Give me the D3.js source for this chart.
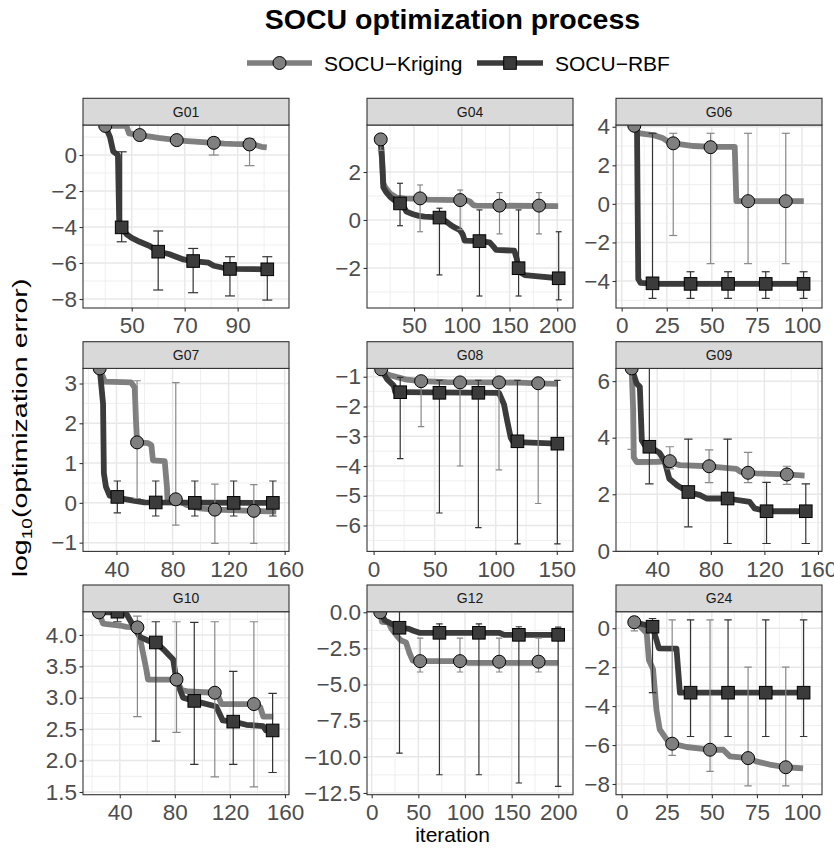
<!DOCTYPE html>
<html><head><meta charset="utf-8">
<script src="https://cdn.jsdelivr.net/npm/d3@7"></script>
<style>body{margin:0;background:#fff} svg{display:block;font-family:Arial,"Liberation Sans",sans-serif}</style>
</head><body><svg id="c" width="834" height="848"></svg>
<script>
// ---------------- DATA ----------------
const series = ["SOCU\u2212Kriging", "SOCU\u2212RBF"];
const panelNames = ["G01","G04","G06","G07","G08","G09","G10","G12","G24"];

// G01
const g01XTicks = [50,70,90], g01YTicks = [-8,-6,-4,-2,0];
const g01KrigLine = [[40,1.62],[48,1.62],[49,1.2],[53,1.11],[57,1.02],[60,0.95],[64,0.88],[67,0.83],[71,0.78],[74,0.75],[78,0.71],[81,0.68],[85,0.64],[88,0.62],[91,0.61],[94.5,0.59],[97,0.55],[99,0.46],[101,0.43]];
const g01KrigPts = [[40,1.62,null,null],[53,1.11,0.9,1.7],[67,0.83,0.6,1.0],[81,0.68,0.0,0.95],[94.5,0.59,-0.59,0.9]];
const g01RbfLine = [[40,1.62],[41.8,1.0],[43,0.2],[44.8,0.0],[45.3,-3.9],[46.2,-4.02],[48,-4.39],[50,-4.6],[53,-4.82],[57,-5.07],[60,-5.37],[64,-5.5],[69.5,-5.8],[73,-5.89],[79,-5.98],[81,-6.15],[84,-6.25],[87,-6.33],[101,-6.35]];
const g01RbfPts = [[46.2,-4.02,-4.82,0.18],[60,-5.37,-7.5,-4.22],[73.2,-5.89,-7.65,-5.19],[87.1,-6.33,-7.83,-5.65],[101.2,-6.35,-8.06,-5.65]];

// G04
const g04XTicks = [50,100,150,200], g04YTicks = [-2,0,2];
const g04KrigLine = [[15,3.36],[16.5,2.5],[17.8,1.53],[20,1.35],[24.8,1.11],[31.9,0.93],[40,0.9],[56,0.88],[65,0.85],[80,0.84],[98,0.83],[105,0.82],[108.8,0.76],[112,0.62],[115,0.6],[201,0.58]];
const g04KrigPts = [[15.1,3.36,2.9,3.6],[56.3,0.9,-0.49,1.46],[98.3,0.83,-0.4,1.25],[139.5,0.6,-0.58,1.14],[180.9,0.6,-0.58,1.14]];
const g04RbfLine = [[15,3.36],[16.5,2.5],[17.8,1.36],[21,1.15],[24.8,0.97],[30,0.8],[35.3,0.69],[39,0.55],[42,0.35],[49,0.24],[55,0.17],[61,0.14],[70,0.12],[76.6,0.1],[84,-0.07],[88,-0.2],[91,-0.28],[98,-0.42],[101,-0.6],[103,-0.86],[118.5,-0.88],[129,-0.93],[133,-1.1],[136,-1.25],[155,-1.28],[157.5,-1.6],[159.5,-2.01],[162,-2.2],[166,-2.3],[180,-2.35],[201.5,-2.43]];
const g04RbfPts = [[35.3,0.69,-0.24,1.53],[76.6,0.1,-2.29,0.49],[118.5,-0.88,-3.17,0.42],[159.5,-2.01,-3.17,0.42],[201.5,-2.43,-3.33,-0.49]];

// G06
const g06XTicks = [0,25,50,75,100], g06YTicks = [-4,-2,0,2,4];
const g06KrigLine = [[7,4.05],[8.5,3.75],[10.1,3.66],[17.5,3.57],[23,3.4],[26.7,3.17],[30,3.12],[40,3.0],[50,2.96],[62.7,2.96],[63.6,0.14],[101,0.14]];
const g06KrigPts = [[7,4.05,null,null],[28.6,3.14,-1.64,3.66],[49.3,2.94,-3.1,3.66],[70.1,0.14,-3.1,3.66],[91,0.14,-3.1,3.66]];
const g06RbfLine = [[7,4.05],[8.5,3.9],[9.2,-3.9],[10.5,-4.1],[20,-4.15],[101,-4.15]];
const g06RbfPts = [[17.1,-4.12,-4.9,3.66],[38.2,-4.15,-4.9,-3.52],[59,-4.15,-4.9,-3.52],[79.9,-4.15,-4.9,-3.52],[100.9,-4.15,-4.9,-3.52]];

// G07
const g07XTicks = [40,80,120,160], g07YTicks = [-1,0,1,2,3];
const g07KrigLine = [[28,3.38],[30,3.2],[31.6,3.05],[50.3,3.03],[53,2.9],[54,2.0],[54.7,1.52],[62.6,1.5],[64.9,1.45],[66,1.07],[74.4,1.05],[76,0.4],[76.4,0.08],[82.3,0.09],[90,-0.05],[99.6,-0.14],[110.2,-0.17],[138,-0.2],[154,-0.22]];
const g07KrigPts = [[28,3.38,null,null],[54.7,1.52,0.11,3.07],[82.3,0.09,-0.56,3.02],[110.2,-0.17,-1.02,0.47],[138,-0.2,-1.02,0.46]];
const g07RbfLine = [[28,3.38],[30.4,2.5],[31,0.74],[32.5,0.4],[35.1,0.18],[40.6,0.15],[45,0.1],[53.1,0.05],[60,0.01],[151.6,0.0]];
const g07RbfPts = [[40.6,0.15,-0.25,0.55],[68,0.01,-0.33,0.55],[95.9,0,-0.33,0.55],[123.6,0,-0.33,0.55],[151.6,0,-0.33,0.55]];

// G08
const g08XTicks = [0,50,100,150], g08YTicks = [-6,-5,-4,-3,-2,-1];
const g08KrigLine = [[6.2,-0.75],[10,-0.9],[13.6,-0.95],[20,-1.02],[27.3,-1.1],[38.9,-1.15],[60,-1.18],[102.7,-1.19],[120,-1.2],[134.8,-1.22],[150.9,-1.24]];
const g08KrigPts = [[6.2,-0.75,null,null],[38.9,-1.15,-2.68,-1.1],[70.8,-1.19,-4.0,-1.12],[102.7,-1.19,-4.13,-1.12],[134.8,-1.22,-5.26,-1.12]];
const g08RbfLine = [[6.2,-0.75],[11,-1.08],[16.5,-1.3],[17.8,-1.52],[21.8,-1.52],[102.7,-1.54],[106.8,-1.93],[109.5,-2.5],[112.3,-3.05],[114,-3.17],[117.8,-3.2],[150.5,-3.25]];
const g08RbfPts = [[21.8,-1.52,-3.75,-1.02],[53.9,-1.54,-5.58,-1.12],[85.8,-1.54,-6.07,-1.12],[117.8,-3.17,-6.62,-1.12],[150.5,-3.25,-6.62,-1.12]];

// G09
const g09XTicks = [40,80,120,160], g09YTicks = [0,2,4,6];
const g09KrigLine = [[20.9,6.45],[22,5],[22.5,3.3],[24.6,3.14],[40,3.15],[49.4,3.17],[52,3.1],[56.9,3.03],[78.7,2.99],[99.1,2.9],[102,2.8],[107.8,2.76],[114,2.74],[136.8,2.7],[150,2.66]];
const g09KrigPts = [[20.9,6.45,3.59,6.8],[49.4,3.17,2.9,3.68],[78.7,2.99,2.41,3.57],[107.8,2.76,2.41,3.48],[136.8,2.7,2.35,2.99]];
const g09RbfLine = [[20.9,6.45],[24.6,5.92],[27,5.8],[28.5,3.9],[30.9,3.72],[34.1,3.68],[41.4,3.48],[45.4,3.19],[49,2.55],[55,2.31],[63.2,2.08],[71.9,1.97],[76.9,1.85],[92.5,1.85],[109,1.73],[112.7,1.5],[121.6,1.4],[150.9,1.4]];
const g09RbfPts = [[34.1,3.68,2.37,6.8],[63.2,2.08,0.85,3.95],[92.5,1.85,0.26,3.95],[121.6,1.4,0.26,2.42],[150.9,1.4,0.26,2.37]];

// G10
const g10XTicks = [40,80,120,160], g10YTicks = [1.5,2,2.5,3,3.5,4];
const g10KrigLine = [[24.9,4.36],[27.8,4.18],[40,4.15],[45,4.13],[52.8,4.12],[54.5,3.97],[57,3.7],[59.3,3.45],[60.5,3.29],[81.2,3.29],[85,3.12],[90,3.1],[109,3.08],[112,3.0],[113.9,2.9],[137.4,2.9],[142,2.85],[144.2,2.7],[151.5,2.7]];
const g10KrigPts = [[24.9,4.36,null,null],[52.8,4.12,2.7,4.3],[81.2,3.29,2.45,4.21],[109,3.08,1.74,4.21],[137.4,2.9,1.58,4.21]];
const g10RbfLine = [[24.9,4.36],[38.3,4.36],[45,4.33],[47.6,4.23],[54.5,3.97],[61.8,3.9],[66.2,3.88],[72.7,3.75],[78.8,3.61],[81.2,3.27],[86,3.0],[94.1,2.95],[110,2.86],[114.8,2.64],[122.4,2.62],[131.9,2.57],[144,2.55],[146.3,2.48],[151,2.48]];
const g10RbfPts = [[38.3,4.37,4.21,4.5],[66.2,3.88,2.31,4.21],[94.1,2.95,1.94,4.2],[122.4,2.62,1.94,3.42],[151,2.48,1.81,3.07]];

// G12
const g12XTicks = [0,50,100,150,200], g12YTicks = [-12.5,-10,-7.5,-5,-2.5,0];
const g12KrigLine = [[9.2,0],[11,-0.66],[18,-0.7],[20.8,-1.1],[27.9,-1.7],[31.5,-1.95],[36.8,-2.08],[40.4,-2.8],[44,-3.35],[51.9,-3.38],[98,-3.38],[103,-3.5],[200,-3.5]];
const g12KrigPts = [[9.2,0,null,null],[51.9,-3.38,-4.13,-1.79],[94.6,-3.38,-4.13,-1.79],[136.6,-3.42,-4.13,-1.79],[178.8,-3.42,-4.13,-1.79]];
const g12RbfLine = [[9.2,0],[14.2,-0.57],[21.3,-0.8],[29.8,-1.07],[40,-1.15],[44.1,-1.26],[51.2,-1.42],[136.6,-1.42],[142,-1.56],[200,-1.56]];
const g12RbfPts = [[29.8,-1.07,-9.75,0.3],[72.6,-1.42,-11.24,-0.8],[114.9,-1.42,-11.24,-0.8],[157.7,-1.56,-11.81,-1.0],[199.8,-1.56,-12.04,-1.03]];

// G24
const g24XTicks = [0,25,50,75,100], g24YTicks = [-8,-6,-4,-2,0];
const g24KrigLine = [[7,0.31],[11.2,0.0],[13.9,-0.26],[15.1,-1.63],[17.4,-2.1],[19.3,-4.2],[21.1,-5.2],[24.8,-5.7],[28,-5.93],[36,-6.1],[49,-6.24],[56.3,-6.24],[60,-6.58],[70.1,-6.67],[74.6,-6.84],[82,-7.0],[91,-7.14],[100.6,-7.2]];
const g24KrigPts = [[7,0.31,-0.14,0.6],[28,-5.93,-6.53,0.43],[49,-6.24,-7.35,0.43],[70.1,-6.67,-8.1,-2.0],[91,-7.14,-8.1,-2.0]];
const g24RbfLine = [[7,0.31],[17.1,0.08],[19,-0.5],[20.6,-1.03],[30.4,-1.05],[32.3,-3.31],[100.9,-3.31]];
const g24RbfPts = [[17.1,0.08,-3.31,0.5],[38.2,-3.31,-5.56,0.43],[59,-3.31,-5.56,0.43],[79.9,-3.31,-5.56,0.43],[100.9,-3.31,-5.56,0.43]];

// scale limits (axis ranges shown in each panel)
const xLimits = [[31.6,109.4],[0.7,216.5],[-3.15,111.1],[16.1,163.1],[-5.4,163.3],[9.2,163],[13.3,162.9],[-5,215.7],[-3.15,111.1]];
const yLimits = [[-8.5,1.67],[-3.67,3.96],[-5.4,4.09],[-1.22,3.38],[-6.87,-0.72],[-0.02,6.45],[1.457,4.37],[-12.62,0.04],[-8.55,0.85]];

// ---------------- BUILD TABLE ----------------
const panels = [
  {name:"G01", xt:g01XTicks, yt:g01YTicks, kl:g01KrigLine, kp:g01KrigPts, rl:g01RbfLine, rp:g01RbfPts},
  {name:"G04", xt:g04XTicks, yt:g04YTicks, kl:g04KrigLine, kp:g04KrigPts, rl:g04RbfLine, rp:g04RbfPts},
  {name:"G06", xt:g06XTicks, yt:g06YTicks, kl:g06KrigLine, kp:g06KrigPts, rl:g06RbfLine, rp:g06RbfPts},
  {name:"G07", xt:g07XTicks, yt:g07YTicks, kl:g07KrigLine, kp:g07KrigPts, rl:g07RbfLine, rp:g07RbfPts},
  {name:"G08", xt:g08XTicks, yt:g08YTicks, kl:g08KrigLine, kp:g08KrigPts, rl:g08RbfLine, rp:g08RbfPts},
  {name:"G09", xt:g09XTicks, yt:g09YTicks, kl:g09KrigLine, kp:g09KrigPts, rl:g09RbfLine, rp:g09RbfPts},
  {name:"G10", xt:g10XTicks, yt:g10YTicks, kl:g10KrigLine, kp:g10KrigPts, rl:g10RbfLine, rp:g10RbfPts},
  {name:"G12", xt:g12XTicks, yt:g12YTicks, kl:g12KrigLine, kp:g12KrigPts, rl:g12RbfLine, rp:g12RbfPts},
  {name:"G24", xt:g24XTicks, yt:g24YTicks, kl:g24KrigLine, kp:g24KrigPts, rl:g24RbfLine, rp:g24RbfPts}
];

// ---------------- STYLE / LAYOUT ----------------
const colX = [83, 367, 616], panelW = 206;
const rowTop = [98.3, 341.7, 585], stripH = 26.7, plotH = 183;
const capHalf = [5, 3, 4, 3.7, 3.2, 4.2, 4.2, 3.2, 3.7];
const krigCol = "#7f7f7f", rbfCol = "#3b3b3b";
const krigErr = "#888888", rbfErr = "#333333";
const tickFont = 22.5;

const svg = d3.select("#c");
svg.append("rect").attr("width",834).attr("height",848).attr("fill","#fff");

// title
svg.append("text").attr("x",452.5).attr("y",29).attr("text-anchor","middle")
  .attr("font-size",28.5).attr("font-weight","bold").attr("fill","#000").text("SOCU optimization process");

// legend
const leg = svg.append("g");
[[247,312,279.5,324],[477,543,510,555]].forEach((p,i)=>{
  leg.append("line").attr("x1",p[0]).attr("x2",p[1]).attr("y1",63).attr("y2",63)
    .attr("stroke", i===0?krigCol:rbfCol).attr("stroke-width",5.5);
  if(i===0) leg.append("circle").attr("cx",p[2]).attr("cy",63).attr("r",6.5).attr("fill",krigCol).attr("stroke","#000").attr("stroke-width",1);
  else leg.append("rect").attr("x",p[2]-6.3).attr("y",63-6.3).attr("width",12.6).attr("height",12.6).attr("fill",rbfCol).attr("stroke","#000").attr("stroke-width",1);
  leg.append("text").attr("x",p[3]).attr("y",70.5).attr("font-size",21).attr("fill","#000").text(series[i]);
});

const defs = svg.append("defs");

panels.forEach((P, i) => {
  const c = i % 3, r = Math.floor(i / 3);
  const x0 = colX[c], y0 = rowTop[r] + stripH;
  const x = d3.scaleLinear().domain(xLimits[i]).range([x0, x0 + panelW]);
  const y = d3.scaleLinear().domain(yLimits[i]).range([y0 + plotH, y0]);
  const g = svg.append("g");

  g.append("rect").attr("x",x0).attr("y",y0).attr("width",panelW).attr("height",plotH).attr("fill","#fff");

  // minor grid
  const xt = P.xt, yt = P.yt;
  const dx = xt[1]-xt[0], dy = yt[1]-yt[0];
  const xMinor = [], yMinor = [];
  for (let v = xt[0]-dx/2; v <= xLimits[i][1]; v += dx) if (v >= xLimits[i][0]) xMinor.push(v);
  for (let v = yt[0]-dy/2; v <= yLimits[i][1]; v += dy) if (v >= yLimits[i][0]) yMinor.push(v);
  g.selectAll(null).data(xMinor).enter().append("line")
    .attr("x1",d=>x(d)).attr("x2",d=>x(d)).attr("y1",y0).attr("y2",y0+plotH)
    .attr("stroke","#ebebeb").attr("stroke-width",0.8);
  g.selectAll(null).data(yMinor).enter().append("line")
    .attr("y1",d=>y(d)).attr("y2",d=>y(d)).attr("x1",x0).attr("x2",x0+panelW)
    .attr("stroke","#ebebeb").attr("stroke-width",0.8);
  // major grid
  g.selectAll(null).data(xt).enter().append("line")
    .attr("x1",d=>x(d)).attr("x2",d=>x(d)).attr("y1",y0).attr("y2",y0+plotH)
    .attr("stroke","#e8e8e8").attr("stroke-width",1.5);
  g.selectAll(null).data(yt).enter().append("line")
    .attr("y1",d=>y(d)).attr("y2",d=>y(d)).attr("x1",x0).attr("x2",x0+panelW)
    .attr("stroke","#e8e8e8").attr("stroke-width",1.5);

  // clip
  const cid = "clip" + i;
  defs.append("clipPath").attr("id",cid).append("rect")
    .attr("x",x0).attr("y",y0).attr("width",panelW).attr("height",plotH);
  const pg = g.append("g").attr("clip-path","url(#"+cid+")");

  const line = d3.line().x(d=>x(d[0])).y(d=>y(d[1]));
  pg.append("path").attr("d",line(P.kl)).attr("fill","none").attr("stroke",krigCol)
    .attr("stroke-width",5.8).attr("stroke-linejoin","round");
  pg.append("path").attr("d",line(P.rl)).attr("fill","none").attr("stroke",rbfCol)
    .attr("stroke-width",5.8).attr("stroke-linejoin","round");

  // error bars
  [[P.kp, krigErr],[P.rp, rbfErr]].forEach(([pts, col]) => {
    pts.filter(d=>d[2]!==null).forEach(d => {
      const xx = x(d[0]);
      pg.append("line").attr("x1",xx).attr("x2",xx).attr("y1",y(d[2])).attr("y2",y(d[3]))
        .attr("stroke",col).attr("stroke-width",1.2);
      [d[2], d[3]].forEach(v => {
        pg.append("line").attr("x1",xx-capHalf[i]).attr("x2",xx+capHalf[i]).attr("y1",y(v)).attr("y2",y(v))
          .attr("stroke",col).attr("stroke-width",1.2);
      });
    });
  });

  // points
  pg.selectAll(null).data(P.kp).enter().append("circle")
    .attr("cx",d=>x(d[0])).attr("cy",d=>y(d[1])).attr("r",6.5)
    .attr("fill",krigCol).attr("stroke","#000").attr("stroke-width",1);
  pg.selectAll(null).data(P.rp).enter().append("rect")
    .attr("x",d=>x(d[0])-6.3).attr("y",d=>y(d[1])-6.3).attr("width",12.6).attr("height",12.6)
    .attr("fill",rbfCol).attr("stroke","#000").attr("stroke-width",1);

  // border
  g.append("rect").attr("x",x0).attr("y",y0).attr("width",panelW).attr("height",plotH)
    .attr("fill","none").attr("stroke","#333").attr("stroke-width",1.1);

  // strip
  g.append("rect").attr("x",x0).attr("y",rowTop[r]).attr("width",panelW).attr("height",stripH)
    .attr("fill","#d9d9d9").attr("stroke","#333").attr("stroke-width",1.1);
  g.append("text").attr("x",x0+panelW/2).attr("y",rowTop[r]+stripH/2).attr("dy","0.36em")
    .attr("text-anchor","middle").attr("font-size",14).attr("fill","#1a1a1a").text(P.name);

  // axes
  const fmt = (P.name==="G10"||P.name==="G12") ? d3.format(".1f") : d3.format("d");
  const xa = d3.axisBottom(x).tickValues(xt).tickSize(3.5).tickPadding(6).tickFormat(d3.format("d"));
  const ya = d3.axisLeft(y).tickValues(yt).tickSize(3.5).tickPadding(2.5).tickFormat(fmt);
  const gx = g.append("g").attr("transform",`translate(0,${y0+plotH})`).call(xa);
  const gy = g.append("g").attr("transform",`translate(${x0},0)`).call(ya);
  [gx, gy].forEach(a => {
    a.select(".domain").remove();
    a.selectAll(".tick line").attr("stroke","#333").attr("stroke-width",1.1);
    a.selectAll(".tick text").attr("font-size",tickFont).attr("fill","#4d4d4d").attr("font-family","Arial, 'Liberation Sans', sans-serif");
  });
});

// axis titles
svg.append("text").attr("x",452.5).attr("y",842).attr("text-anchor","middle")
  .attr("font-size",21).attr("fill","#000").text("iteration");
const yt = svg.append("text").attr("transform","translate(27,428) rotate(-90) scale(1.36,1)")
  .attr("text-anchor","middle").attr("font-size",21).attr("fill","#000");
yt.append("tspan").text("log");
yt.append("tspan").attr("font-size",14).attr("dy",5).text("10");
yt.append("tspan").attr("dy",-5).text("(optimization error)");
</script></body></html>
